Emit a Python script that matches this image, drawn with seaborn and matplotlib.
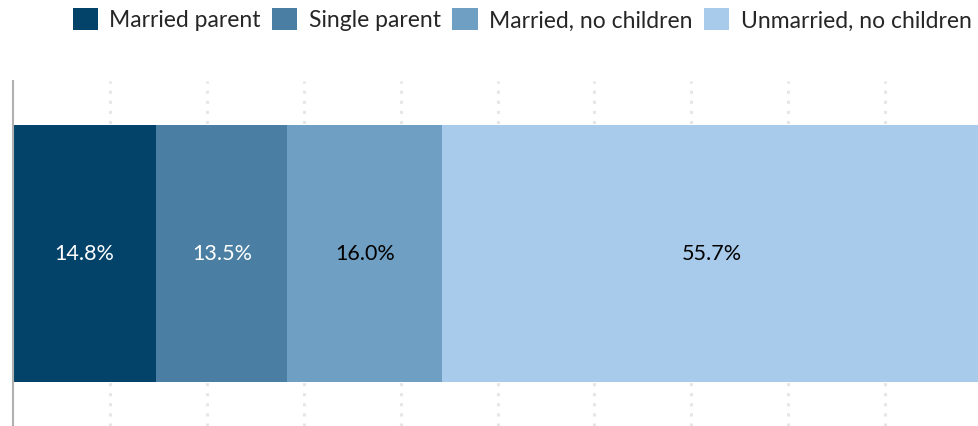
import numpy as np
import pandas as pd
import matplotlib
matplotlib.use("Agg")
import matplotlib.pyplot as plt
import seaborn as sns
from matplotlib.patches import Patch

# Data
categories = ['Married parent', 'Single parent', 'Married, no children', 'Unmarried, no children']
shares = [14.8, 13.5, 16.0, 55.7]
colors = ['#03436a', '#4a7fa3', '#6f9fc2', '#a8cbec']
label_colors = ['white', 'white', 'black', 'black']

sns.set_theme(style='white')
plt.rcParams['font.family'] = ['Lato', 'DejaVu Sans']

fig = plt.figure(figsize=(9.79, 4.27), dpi=100)
ax = fig.add_axes([13 / 979, 0.0, 969 / 979, 1 - 82 / 427])

# one row per segment, with its start position for stacking
starts = np.cumsum(shares) - np.array(shares)
df = pd.DataFrame({'group': categories, 'share': shares, 'start': starts, 'row': 'all'})

# stacked bar: seaborn draws each segment, then shift it to its start
for i, r in df.iterrows():
    sns.barplot(data=df.iloc[[i]], x='share', y='row', orient='h', color=colors[i],
                saturation=1, width=0.745, ax=ax, zorder=3, errorbar=None)
for p, s in zip(ax.patches, df['start']):
    p.set_x(s)
    p.set_linewidth(0)
    p.set_edgecolor(p.get_facecolor())

# value labels
for s, v, c in zip(df['start'], df['share'], label_colors):
    ax.text(s + v / 2, 0, f'{v:.1f}%', ha='center', va='center',
            fontsize=15.5, color=c, zorder=4)

ax.set_xlim(0, 100)
ax.set_ylim(0.5, -0.5)
ax.set_xticks(np.arange(10, 100, 10))
ax.xaxis.grid(True, color='#e6e6e6', linewidth=2.2, linestyle=(0, (1, 2.3)))
ax.yaxis.grid(False)
ax.set_axisbelow(True)
ax.set_xticklabels([])
ax.set_yticklabels([])
ax.tick_params(length=0)
ax.set_xlabel('')
ax.set_ylabel('')
for side in ['top', 'right', 'bottom']:
    ax.spines[side].set_visible(False)
ax.spines['left'].set_color('#b0b0b0')
ax.spines['left'].set_linewidth(1.5)
ax.spines['left'].set_zorder(5)

handles = [Patch(facecolor=c, edgecolor='none') for c in colors]
fig.legend(handles, categories, loc='center', bbox_to_anchor=(522 / 979, 1 - 20 / 427),
           ncol=4, frameon=False, fontsize=16.5, handlelength=1.1, handleheight=1.1,
           handletextpad=0.5, columnspacing=0.5, borderaxespad=0, borderpad=0)

fig.savefig('out.png', dpi=100)
